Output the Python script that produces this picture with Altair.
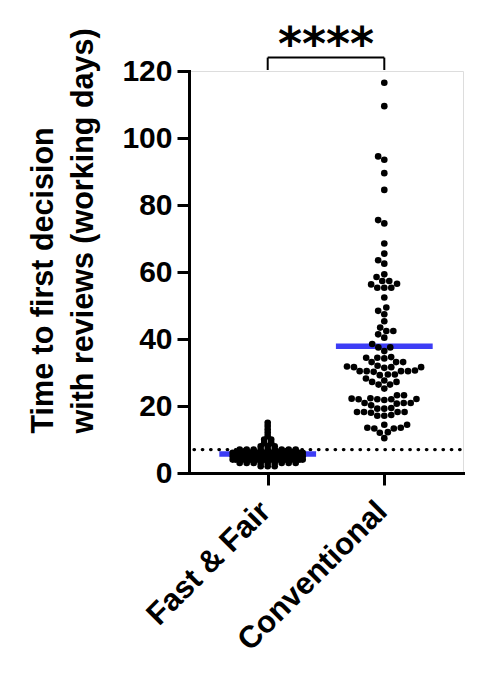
import json
import altair as alt
import pandas as pd

# ---------------- data ----------------
CATEGORIES = ["Fast & Fair", "Conventional"]

# Fast & Fair: working days and how many manuscripts sit at each value
FF_DAYS = [2, 3, 4, 5, 6, 7, 8, 9, 10, 11, 12, 13, 14, 15]
FF_COUNTS = [3, 9, 25, 35, 25, 9, 3, 2, 2, 1, 1, 1, 1, 1]

# Conventional: individual values
CONV_VALUES = [116.5, 109.5, 94.5, 93.5, 89.5, 84.5, 75.5, 74.5, 68.5, 65.5,
               63.5, 62.5, 59.3, 58.5, 57.3, 57.3, 56.5, 56.3, 55.3, 55.3,
               55.3, 52.4, 49.4, 48.4, 47.4, 45.3, 43.4, 42.4, 42.4, 41.4,
               40.4, 38.5, 37.5, 37.5, 36.4, 34.4, 34.4, 34.6, 34.2, 33.1,
               33.1, 33.1, 31.6, 31.6, 31.8, 31.4, 31.6, 32.0, 30.4, 30.4,
               30.4, 30.2, 30.4, 30.6, 29.4, 29.4, 29.2, 28.2, 27.2, 27.2,
               27.6, 26.4, 26.4, 25.2, 23.2, 23.2, 22.0, 22.0, 22.2, 21.8,
               22.0, 22.1, 22.3, 20.9, 20.9, 20.7, 20.9, 20.2, 19.2, 19.2,
               19.4, 18.2, 18.2, 18.2, 18.2, 18.0, 17.1, 17.1, 17.3, 14.4,
               14.4, 13.3, 13.3, 13.5, 13.5, 12.0, 12.2, 10.4]

CENTER_LINES = [5.7, 37.8]      # blue summary lines
THRESHOLD = 7                   # dotted reference line
Y_TICKS = [0, 10, 20, 30, 40, 50, 60, 70, 80, 90, 100, 110, 120]
SIG_LABEL = "****"
Y_TITLE = ["Time to first decision", "with reviews (working days)"]

# ---------------- geometry / style ----------------
W, H = 274, 402
X_DOMAIN = [0.325, 2.675]
Y_DOMAIN = [0, 120]
PX_PER_Y = H / (Y_DOMAIN[1] - Y_DOMAIN[0])
PX_PER_X = W / (X_DOMAIN[1] - X_DOMAIN[0])
DIAM = 7.0
FF_MAX_SPAN = 70.0
LINE_HALF = 0.415
FONT = "Liberation Sans"
BLUE = "#3d3df5"


def swarm(vals, diam):
    """classic beeswarm: nearest free horizontal offset (px)"""
    order = sorted(range(len(vals)), key=lambda i: vals[i])
    xs = [0.0] * len(vals)
    placed = []
    for i in order:
        y = vals[i] * PX_PER_Y
        forb = []
        for xj, yj in placed:
            dy = abs(y - yj)
            if dy < diam:
                h = (diam ** 2 - dy ** 2) ** 0.5
                forb.append((xj - h, xj + h))
        cands = [0.0] + [a for a, b in forb] + [b for a, b in forb]
        cands.sort(key=lambda c: (abs(c), c))
        x = 0.0
        for c in cands:
            if all(not (a + 1e-6 < c < b - 1e-6) for a, b in forb):
                x = c
                break
        xs[i] = x
        placed.append((x, y))
    return xs


rows = []
# Fast & Fair: rows of identical values, squeezed when crowded
for d, n in zip(FF_DAYS, FF_COUNTS):
    s = DIAM if n < 2 else min(DIAM, FF_MAX_SPAN / (n - 1))
    for k in range(n):
        off = (k - (n - 1) / 2) * s
        rows.append({"group": CATEGORIES[0], "value": d, "xpos": 1 + off / PX_PER_X})

conv_off = swarm(CONV_VALUES, DIAM)
for v, off in zip(CONV_VALUES, conv_off):
    rows.append({"group": CATEGORIES[1], "value": v, "xpos": 2 + off / PX_PER_X})

points = pd.DataFrame(rows)

lines = pd.DataFrame({
    "group": CATEGORIES,
    "x1": [i + 1 - LINE_HALF for i in range(len(CATEGORIES))],
    "x2": [i + 1 + LINE_HALF for i in range(len(CATEGORIES))],
    "y": CENTER_LINES,
})

BR_LOW, BR_HIGH = 120.3, 124.0
bracket = pd.DataFrame({
    "x1": [1, 1, 2], "x2": [2, 1, 2],
    "y1": [BR_HIGH, BR_LOW, BR_LOW], "y2": [BR_HIGH, BR_HIGH, BR_HIGH],
})
stars = pd.DataFrame({"x": [1.5], "y": [123.3], "t": [SIG_LABEL]})

xscale = alt.Scale(domain=X_DOMAIN, nice=False, zero=False)
yscale = alt.Scale(domain=Y_DOMAIN, nice=False)

label_expr = f"{json.dumps(CATEGORIES)}[datum.value - 1]"

x_axis = alt.Axis(values=[1, 2], labelExpr=label_expr, title=None, grid=False,
                  labelAngle=-45, labelAlign="right", labelBaseline="top",
                  labelFontSize=31, labelFontWeight="bold", labelFont=FONT,
                  labelColor="black", labelPadding=11, labelOffset=-13,
                  labelLimit=0,
                  tickSize=12, tickWidth=3, tickColor="black",
                  domainWidth=3, domainColor="black", domainCap="square")

y_axis = alt.Axis(values=Y_TICKS, grid=False,
                  labelExpr="datum.value % 20 === 0 ? datum.label : ''",
                  labelOverlap=False,
                  labelFontSize=30, labelFontWeight="bold", labelFont=FONT,
                  labelColor="black", labelPadding=5,
                  tickSize={"condition": {"test": "datum.value % 20 === 0", "value": 12}, "value": 9},
                  tickWidth=3, tickColor="black",
                  domainWidth=3, domainColor="black", domainCap="square",
                  title=Y_TITLE, titleFontSize=30.5, titleFontWeight="bold",
                  titleFont=FONT, titleColor="black", titleAlign="left",
                  titleBaseline="alphabetic", titleAngle=270,
                  titleX=-137, titleY=362, titleLineHeight=40)

dotted = alt.Chart(pd.DataFrame({"y": [THRESHOLD]})).mark_rule(
    color="black", strokeWidth=3.3, strokeDash=[0.5, 7.8], strokeCap="round"
).encode(
    y=alt.Y("y:Q", scale=yscale, axis=y_axis),
    x=alt.value(5), x2=alt.value(W),
)

mean_lines = alt.Chart(lines).mark_rule(color=BLUE, strokeWidth=5.5).encode(
    x=alt.X("x1:Q", scale=xscale, axis=x_axis),
    x2="x2:Q",
    y=alt.Y("y:Q", scale=yscale),
)

dots = alt.Chart(points).mark_circle(size=44, color="black", opacity=1).encode(
    x=alt.X("xpos:Q", scale=xscale),
    y=alt.Y("value:Q", scale=yscale),
)

bracket_layer = alt.Chart(bracket).mark_rule(color="black", strokeWidth=2).encode(
    x=alt.X("x1:Q", scale=xscale), x2="x2:Q",
    y=alt.Y("y1:Q", scale=yscale), y2="y2:Q",
)

stars_layer = alt.Chart(stars).mark_text(
    fontSize=46, fontWeight="bold", font="DejaVu Sans", color="black",
    align="center", baseline="alphabetic"
).encode(
    x=alt.X("x:Q", scale=xscale),
    y=alt.Y("y:Q", scale=yscale),
    text="t:N",
)

chart = alt.layer(dotted, mean_lines, dots, bracket_layer, stars_layer).properties(
    width=W, height=H,
    autosize=alt.AutoSizeParams(type="none"),
    padding={"left": 181, "top": 63, "right": 20, "bottom": 200},
).configure_view(stroke=None).configure(font=FONT)

chart.save("out.html", embed_options={"renderer": "svg", "actions": False})
